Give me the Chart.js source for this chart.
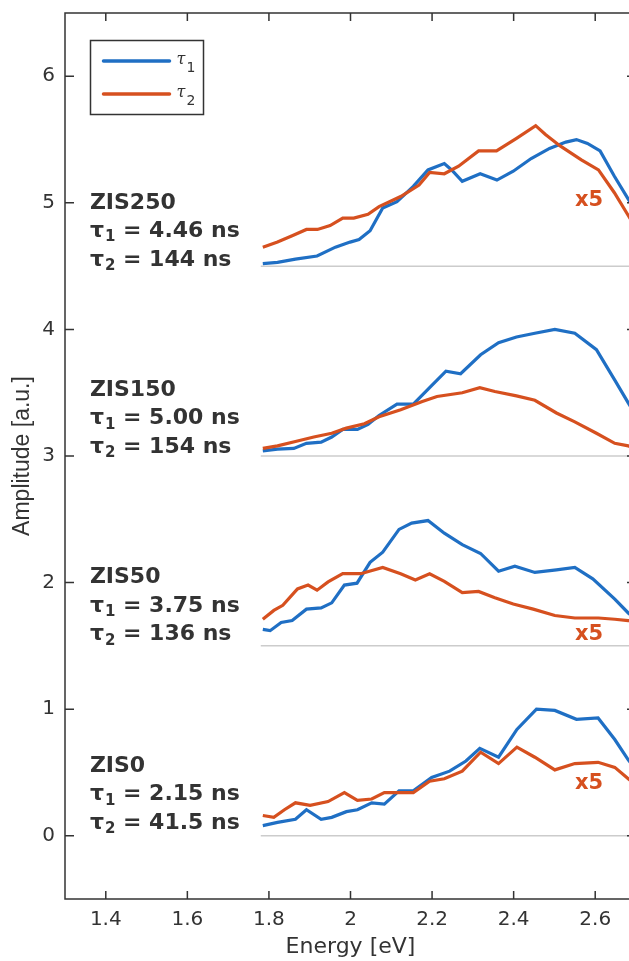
<!DOCTYPE html>
<html>
<head>
  <meta charset="utf-8">
  <title>Amplitude spectra</title>
  <style>
    html, body {
      margin: 0;
      padding: 0;
      background: #ffffff;
      overflow: hidden;
    }
    #wrap {
      position: absolute;
      left: 0;
      top: 0;
      width: 645px;
      height: 961px;
    }
  </style>
  <script src="https://cdn.jsdelivr.net/npm/chart.js"></script>
</head>
<body>
  <div id="wrap">
    <canvas id="chart" width="645" height="961"></canvas>
  </div>

  <script>
    // Axis ticks
    var xTicks = [1.4, 1.6, 1.8, 2.0, 2.2, 2.4, 2.6];
    var xTickLabels = ['1.4', '1.6', '1.8', '2', '2.2', '2.4', '2.6'];
    var yTicks = [0, 1, 2, 3, 4, 5, 6];

    // Samples (top to bottom), their baselines and fit results
    var samples = ['ZIS250', 'ZIS150', 'ZIS50', 'ZIS0'];
    var baselines = [4.5, 3.0, 1.5, 0.0];
    var tau1Values = ['4.46', '5.00', '3.75', '2.15'];
    var tau2Values = ['144', '154', '136', '41.5'];
    var labelTopY = [5.0, 3.52, 2.04, 0.55];
    var x5Y = [5.02, null, 1.59, 0.41];
    var baselineStart = 1.78;

    // ZIS250
    var zis250T1E = [1.785, 1.821, 1.865, 1.918, 1.963, 1.999, 2.021, 2.048, 2.079, 2.114, 2.154, 2.19, 2.23, 2.248, 2.274, 2.318, 2.359, 2.399, 2.443, 2.488, 2.528, 2.554, 2.581, 2.612, 2.647, 2.681, 2.70];
    var zis250T1A = [4.52, 4.53, 4.555, 4.58, 4.65, 4.69, 4.71, 4.78, 4.96, 5.01, 5.13, 5.26, 5.31, 5.26, 5.17, 5.23, 5.18, 5.25, 5.35, 5.43, 5.48, 5.50, 5.47, 5.41, 5.21, 5.03, 4.93];
    var zis250T2E = [1.785, 1.821, 1.857, 1.892, 1.919, 1.950, 1.981, 2.008, 2.043, 2.07, 2.123, 2.168, 2.194, 2.23, 2.265, 2.314, 2.358, 2.407, 2.454, 2.478, 2.514, 2.566, 2.608, 2.647, 2.681, 2.70];
    var zis250T2A = [4.65, 4.69, 4.74, 4.79, 4.79, 4.82, 4.88, 4.88, 4.91, 4.97, 5.05, 5.14, 5.24, 5.23, 5.29, 5.41, 5.41, 5.51, 5.61, 5.54, 5.45, 5.34, 5.26, 5.08, 4.90, 4.80];

    // ZIS150
    var zis150T1E = [1.785, 1.821, 1.861, 1.892, 1.928, 1.954, 1.981, 2.017, 2.043, 2.07, 2.114, 2.154, 2.194, 2.234, 2.27, 2.319, 2.363, 2.407, 2.452, 2.501, 2.55, 2.603, 2.648, 2.681, 2.70];
    var zis150T1A = [3.04, 3.055, 3.06, 3.10, 3.11, 3.15, 3.21, 3.21, 3.25, 3.32, 3.41, 3.41, 3.54, 3.67, 3.65, 3.80, 3.895, 3.94, 3.97, 4.0, 3.97, 3.84, 3.60, 3.42, 3.32];
    var zis150T2E = [1.785, 1.821, 1.865, 1.91, 1.954, 1.99, 2.034, 2.07, 2.123, 2.176, 2.212, 2.274, 2.317, 2.354, 2.407, 2.452, 2.505, 2.55, 2.603, 2.648, 2.681, 2.70];
    var zis150T2A = [3.06, 3.08, 3.115, 3.15, 3.18, 3.22, 3.255, 3.31, 3.365, 3.43, 3.47, 3.50, 3.54, 3.51, 3.475, 3.44, 3.34, 3.27, 3.18, 3.10, 3.08, 3.06];

    // ZIS50
    var zis50T1E = [1.785, 1.803, 1.83, 1.857, 1.892, 1.928, 1.954, 1.985, 2.016, 2.048, 2.079, 2.119, 2.15, 2.19, 2.23, 2.274, 2.319, 2.363, 2.403, 2.452, 2.505, 2.55, 2.594, 2.648, 2.681, 2.70];
    var zis50T1A = [1.63, 1.62, 1.685, 1.70, 1.79, 1.80, 1.84, 1.98, 1.995, 2.16, 2.24, 2.42, 2.47, 2.49, 2.39, 2.30, 2.23, 2.09, 2.13, 2.08, 2.10, 2.12, 2.03, 1.87, 1.76, 1.71];
    var zis50T2E = [1.785, 1.812, 1.834, 1.87, 1.896, 1.918, 1.945, 1.981, 2.025, 2.079, 2.123, 2.159, 2.194, 2.23, 2.274, 2.314, 2.354, 2.399, 2.448, 2.501, 2.55, 2.608, 2.648, 2.681, 2.70];
    var zis50T2A = [1.71, 1.78, 1.82, 1.95, 1.98, 1.94, 2.005, 2.07, 2.07, 2.12, 2.07, 2.02, 2.07, 2.01, 1.92, 1.93, 1.88, 1.83, 1.79, 1.74, 1.72, 1.72, 1.71, 1.70, 1.69];

    // ZIS0
    var zis0T1E = [1.785, 1.821, 1.865, 1.892, 1.928, 1.954, 1.99, 2.017, 2.052, 2.083, 2.119, 2.154, 2.199, 2.243, 2.283, 2.317, 2.363, 2.408, 2.456, 2.501, 2.554, 2.607, 2.648, 2.681, 2.70];
    var zis0T1A = [0.08, 0.105, 0.13, 0.205, 0.13, 0.145, 0.19, 0.205, 0.26, 0.25, 0.355, 0.355, 0.46, 0.51, 0.59, 0.69, 0.62, 0.84, 1.0, 0.99, 0.92, 0.93, 0.76, 0.60, 0.52];
    var zis0T2E = [1.785, 1.812, 1.838, 1.865, 1.901, 1.945, 1.985, 2.017, 2.052, 2.083, 2.114, 2.154, 2.194, 2.23, 2.274, 2.319, 2.363, 2.408, 2.452, 2.501, 2.55, 2.607, 2.648, 2.681, 2.70];
    var zis0T2A = [0.16, 0.145, 0.205, 0.26, 0.24, 0.27, 0.34, 0.28, 0.29, 0.34, 0.34, 0.34, 0.43, 0.45, 0.51, 0.66, 0.57, 0.70, 0.62, 0.52, 0.57, 0.58, 0.54, 0.45, 0.40];

    var blue = '#1f6fc4';
    var red = '#d6501f';
    var textColor = '#333333';

    function pairs(es, as) {
      return es.map(function(e, i) { return { x: e, y: as[i] }; });
    }

    function series(es, as, color, order) {
      return {
        data: pairs(es, as),
        borderColor: color,
        backgroundColor: color,
        borderWidth: 3.2,
        pointRadius: 0,
        tension: 0,
        fill: false,
        order: order
      };
    }

    // red (tau2) drawn on top of blue (tau1)
    var datasets = [
      series(zis250T1E, zis250T1A, blue, 1), series(zis250T2E, zis250T2A, red, 0),
      series(zis150T1E, zis150T1A, blue, 1), series(zis150T2E, zis150T2A, red, 0),
      series(zis50T1E, zis50T1A, blue, 1), series(zis50T2E, zis50T2A, red, 0),
      series(zis0T1E, zis0T1A, blue, 1), series(zis0T2E, zis0T2A, red, 0)
    ];

    // draws "tau" + subscript + rest of the text
    function drawTau(ctx, x, y, sub, rest, size, bold) {
      var w = bold ? 'bold ' : '';
      ctx.font = w + size + 'px "DejaVu Sans"';
      ctx.fillText('\u03c4', x, y);
      var dx = ctx.measureText('\u03c4').width + 1;
      ctx.font = w + Math.round(size * 0.66) + 'px "DejaVu Sans"';
      ctx.fillText(sub, x + dx, y + size * 0.28);
      dx += ctx.measureText(sub).width;
      ctx.font = w + size + 'px "DejaVu Sans"';
      ctx.fillText(rest, x + dx, y);
    }

    var framePlugin = {
      id: 'frame',
      beforeDatasetsDraw: function(chart) {
        var ctx = chart.ctx, ca = chart.chartArea;
        var xs = chart.scales.x, ys = chart.scales.y;
        ctx.save();
        ctx.strokeStyle = '#cccccc';
        ctx.lineWidth = 1.5;
        baselines.forEach(function(b) {
          var py = ys.getPixelForValue(b);
          ctx.beginPath();
          ctx.moveTo(xs.getPixelForValue(baselineStart), py);
          ctx.lineTo(ca.right, py);
          ctx.stroke();
        });
        ctx.restore();
      },
      afterDraw: function(chart) {
        var ctx = chart.ctx, ca = chart.chartArea;
        var xs = chart.scales.x, ys = chart.scales.y;
        ctx.save();

        // box and inward ticks
        ctx.strokeStyle = '#333333';
        ctx.lineWidth = 1.5;
        ctx.strokeRect(ca.left, ca.top, ca.right - ca.left, ca.bottom - ca.top);
        ctx.beginPath();
        xTicks.forEach(function(v) {
          var px = xs.getPixelForValue(v);
          ctx.moveTo(px, ca.bottom); ctx.lineTo(px, ca.bottom - 8);
          ctx.moveTo(px, ca.top); ctx.lineTo(px, ca.top + 8);
        });
        yTicks.forEach(function(v) {
          var py = ys.getPixelForValue(v);
          ctx.moveTo(ca.left, py); ctx.lineTo(ca.left + 9, py);
          ctx.moveTo(ca.right, py); ctx.lineTo(ca.right - 9, py);
        });
        ctx.stroke();

        // sample labels
        ctx.fillStyle = textColor;
        ctx.textBaseline = 'middle';
        ctx.textAlign = 'left';
        var lx = xs.getPixelForValue(1.361);
        samples.forEach(function(name, i) {
          var y0 = labelTopY[i];
          ctx.font = 'bold 22px "DejaVu Sans"';
          ctx.fillText(name, lx, ys.getPixelForValue(y0));
          drawTau(ctx, lx, ys.getPixelForValue(y0 - 0.225), '1', ' = ' + tau1Values[i] + ' ns', 22, true);
          drawTau(ctx, lx, ys.getPixelForValue(y0 - 0.45), '2', ' = ' + tau2Values[i] + ' ns', 22, true);
        });

        // x5 scaling notes
        ctx.fillStyle = red;
        ctx.textAlign = 'center';
        ctx.font = 'bold 21px "DejaVu Sans"';
        x5Y.forEach(function(v) {
          if (v === null) return;
          ctx.fillText('x5', xs.getPixelForValue(2.585), ys.getPixelForValue(v));
        });

        // legend
        var bx = ca.left + 25.5, by = ca.top + 27.5;
        ctx.fillStyle = '#ffffff';
        ctx.fillRect(bx, by, 113, 74);
        ctx.strokeStyle = '#333333';
        ctx.lineWidth = 1.5;
        ctx.strokeRect(bx, by, 113, 74);
        var items = [[blue, '1', 20.5], [red, '2', 53.5]];
        items.forEach(function(it) {
          ctx.strokeStyle = it[0];
          ctx.lineWidth = 3.5;
          ctx.lineCap = 'round';
          ctx.beginPath();
          ctx.moveTo(bx + 13, by + it[2]);
          ctx.lineTo(bx + 79, by + it[2]);
          ctx.stroke();
          ctx.fillStyle = textColor;
          ctx.textAlign = 'left';
          ctx.font = 'italic 16px "DejaVu Serif"';
          ctx.fillText('\u03c4', bx + 86, by + it[2] - 1);
          ctx.font = '14px "DejaVu Sans"';
          ctx.fillText(it[1], bx + 96, by + it[2] + 7);
        });
        ctx.restore();
      }
    };

    var chart = new Chart(document.getElementById('chart'), {
      type: 'line',
      data: { datasets: datasets },
      options: {
        responsive: false,
        animation: false,
        layout: { padding: { top: 13, right: 9, bottom: 0, left: 0 } },
        plugins: {
          legend: { display: false },
          tooltip: { enabled: false }
        },
        scales: {
          x: {
            type: 'linear',
            min: 1.3,
            max: 2.7,
            grid: { display: false },
            border: { display: false },
            afterBuildTicks: function(s) { s.ticks = xTicks.map(function(v) { return { value: v }; }); },
            afterFit: function(s) {
              s.height = 62;
              s.paddingLeft = 0;
              s.paddingRight = 0;
            },
            ticks: {
              font: { family: 'DejaVu Sans', size: 20 },
              color: textColor,
              padding: 1,
              maxRotation: 0,
              autoSkip: false,
              callback: function(v) { return xTickLabels[xTicks.indexOf(v)]; }
            },
            title: {
              display: true,
              text: 'Energy [eV]',
              font: { family: 'DejaVu Sans', size: 22 },
              color: textColor,
              padding: { top: 0, bottom: 1 }
            }
          },
          y: {
            type: 'linear',
            min: -0.5,
            max: 6.5,
            grid: { display: false },
            border: { display: false },
            afterBuildTicks: function(s) { s.ticks = yTicks.map(function(v) { return { value: v }; }); },
            afterFit: function(s) {
              s.width = 65;
              s.paddingTop = 0;
              s.paddingBottom = 0;
            },
            ticks: {
              font: { family: 'DejaVu Sans', size: 20 },
              color: textColor,
              padding: 2,
              callback: function(v) { return String(v); }
            },
            title: {
              display: true,
              text: 'Amplitude [a.u.]',
              font: { family: 'Liberation Sans', size: 23 },
              color: textColor,
              padding: { top: 9, bottom: 0 }
            }
          }
        }
      },
      plugins: [framePlugin]
    });
  </script>
</body>
</html>
